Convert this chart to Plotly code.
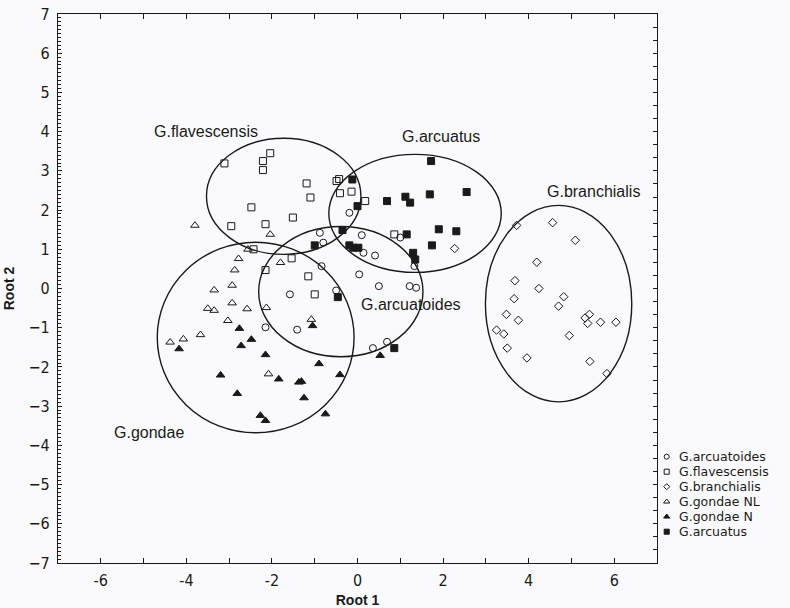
import plotly.graph_objects as go

# ---------------- data ----------------
arcuatoides_x = [-0.19, 0.10, -0.80, -0.88, 0.14, 0.41, 1.00, 1.33, -0.84, 0.04, 0.50, 1.22, 1.37,
                 -1.58, -0.50, -2.15, -1.41, 0.36, 0.69]
arcuatoides_y = [1.93, 1.36, 1.17, 1.42, 0.91, 0.84, 1.30, 0.57, 0.57, 0.36, 0.06, 0.06, 0.02,
                 -0.15, -0.05, -0.99, -1.05, -1.52, -1.36]

flavescensis_x = [-3.11, -2.04, -2.21, -2.21, -2.48, -2.95, -2.15, -1.51, -1.19, -1.10, -0.49, -0.43,
                  -0.14, -0.41, 0.18, -2.43, -1.54, -2.15, -1.15, -1.00, 0.86]
flavescensis_y = [3.19, 3.45, 3.25, 3.02, 2.07, 1.59, 1.64, 1.81, 2.68, 2.32, 2.74, 2.79,
                  2.47, 2.43, 2.23, 1.00, 0.77, 0.47, 0.31, -0.15, 1.38]

branchialis_x = [2.27, 3.72, 4.56, 5.09, 4.19, 3.68, 4.24, 4.82, 3.66, 4.70, 3.48, 3.76, 5.32, 5.42,
                 5.38, 5.68, 6.04, 3.25, 3.42, 3.50, 4.95, 3.96, 5.43, 5.83]
branchialis_y = [1.02, 1.61, 1.68, 1.23, 0.67, 0.20, 0.00, -0.21, -0.26, -0.45, -0.66, -0.81, -0.75, -0.66,
                 -0.89, -0.86, -0.86, -1.06, -1.16, -1.52, -1.20, -1.77, -1.86, -2.17]

gondae_nl_x = [-3.80, -2.04, -2.56, -2.78, -2.87, -2.93, -3.35, -1.80, -3.50, -3.35, -2.93, -2.58,
               -2.13, -3.03, -4.38, -4.07, -3.67, -2.08, -1.08]
gondae_nl_y = [1.61, 1.38, 1.00, 0.76, 0.47, 0.08, -0.04, 0.66, -0.51, -0.56, -0.37, -0.52,
               -0.49, -0.82, -1.37, -1.29, -1.18, -2.18, -0.79]

gondae_n_x = [-4.17, -2.76, -2.48, -2.72, -2.15, -3.20, -1.84, -1.37, -1.31, -0.90, -0.41, -2.81,
              -1.25, -2.27, -2.15, -0.75, -1.05, 0.53]
gondae_n_y = [-1.54, -1.02, -1.30, -1.46, -1.69, -2.21, -2.31, -2.39, -2.37, -1.92, -2.20, -2.68,
              -2.79, -3.24, -3.37, -3.20, -0.95, -1.71]

arcuatus_x = [-0.12, 0.00, 0.69, 1.12, 1.23, 1.69, 1.72, 2.55, -0.35, -0.19, -0.10, 0.02, -1.00,
              1.15, 1.30, 1.35, 1.74, 1.90, 2.31, -0.46, 0.86]
arcuatus_y = [2.78, 2.10, 2.23, 2.34, 2.19, 2.40, 3.25, 2.46, 1.49, 1.10, 1.04, 1.04, 1.10,
              1.38, 0.91, 0.74, 1.10, 1.51, 1.46, -0.22, -1.52]

series_names = ["G.arcuatoides", "G.flavescensis", "G.branchialis", "G.gondae NL", "G.gondae N", "G.arcuatus"]

# group ellipses (x0, x1, y0, y1) and their labels
ellipse_names = ["G.flavescensis", "G.arcuatus", "G.branchialis", "G.arcuatoides", "G.gondae"]
ellipse_x0 = [-3.53, -0.67, 2.99, -2.31, -4.68]
ellipse_x1 = [0.08, 3.36, 6.41, 1.53, -0.08]
ellipse_y0 = [0.87, 0.41, -2.89, -1.74, -3.68]
ellipse_y1 = [3.83, 3.42, 2.12, 1.58, 1.18]
label_x = [-3.53, 1.94, 5.52, 1.26, -4.87]
label_y = [4.01, 3.88, 2.48, -0.41, -3.68]

x_ticks = list(range(-7, 8))
y_ticks = list(range(-7, 8))

# ---------------- figure ----------------
INK = "#1a1a1a"
BG = "#fafafc"
FONT = "Liberation Sans, Arial, sans-serif"
NARROW = "Liberation Sans Narrow, Arial Narrow, DejaVu Sans Condensed, sans-serif"
LEGFONT = "DejaVu Sans, Verdana, sans-serif"

styles = [
    dict(symbol="circle-open", size=7),
    dict(symbol="square-open", size=7),
    dict(symbol="diamond-open", size=6.5),
    dict(symbol="triangle-up-open", size=7.5),
    dict(symbol="triangle-up", size=7.5),
    dict(symbol="square", size=7),
]
xs = [arcuatoides_x, flavescensis_x, branchialis_x, gondae_nl_x, gondae_n_x, arcuatus_x]
ys = [arcuatoides_y, flavescensis_y, branchialis_y, gondae_nl_y, gondae_n_y, arcuatus_y]

fig = go.Figure()
for name, sx, sy, st in zip(series_names, xs, ys, styles):
    fig.add_trace(go.Scatter(
        x=sx, y=sy, mode="markers", name=name, showlegend=False,
        marker=dict(symbol=st["symbol"], size=st["size"], color=INK,
                    line=dict(color=INK, width=1)),
        xaxis="x", yaxis="y"))

# invisible helper for the right-hand tick axis
fig.add_trace(go.Scatter(x=[None], y=[None], xaxis="x", yaxis="y2", showlegend=False, hoverinfo="skip"))

# ellipses
for x0, x1, y0, y1 in zip(ellipse_x0, ellipse_x1, ellipse_y0, ellipse_y1):
    fig.add_shape(type="circle", xref="x", yref="y", x0=x0, x1=x1, y0=y0, y1=y1,
                  line=dict(color=INK, width=1.4), fillcolor="rgba(0,0,0,0)", layer="above")

annotations = []
for name, lx, ly in zip(ellipse_names, label_x, label_y):
    annotations.append(dict(x=lx, y=ly, xref="x", yref="y", text=name, showarrow=False,
                            font=dict(family=FONT, size=16, color=INK)))

# ---------------- custom legend (right margin) ----------------
W, H = 790, 608
L, R, T, B = 58, 0, 14, 45
plot_w = W - L - R
main_w = 599
main_dom = main_w / plot_w
leg_dom0 = (662 - L) / plot_w
leg_w = W - 662
leg_top = 456.7 - T          # pixel distance of first legend row from plot top
leg_step = 15
plot_h = H - T - B
leg_y = [plot_h - (leg_top + i * leg_step) for i in range(len(series_names))]
leg_mx = [4.7] * len(series_names)

for i, (name, st) in enumerate(zip(series_names, styles)):
    fig.add_trace(go.Scatter(
        x=[leg_mx[i]], y=[leg_y[i]], mode="markers", showlegend=False, hoverinfo="skip",
        marker=dict(symbol=st["symbol"], size=st["size"] * 0.72, color=INK,
                    line=dict(color=INK, width=1)),
        xaxis="x3", yaxis="y3"))
    annotations.append(dict(x=leg_mx[i] + 10, y=leg_y[i], xref="x3", yref="y3", text=name,
                            xanchor="left", yanchor="middle", showarrow=False,
                            font=dict(family=LEGFONT, size=12.5, color=INK)))

fig.update_layout(
    width=W, height=H,
    margin=dict(l=L, r=R, t=T, b=B),
    paper_bgcolor=BG, plot_bgcolor=BG,
    showlegend=False,
    annotations=annotations,
    xaxis=dict(domain=[0, main_dom], range=[-7, 7], tickvals=x_ticks,
               ticktext=[str(v) if v % 2 == 0 else "" for v in x_ticks],
               ticks="inside", ticklen=5, tickcolor=INK, showline=True, linecolor=INK, linewidth=1.2,
               mirror="ticks", showgrid=False, zeroline=False, automargin=False,
               tickfont=dict(family=NARROW, size=16, color=INK), ticklabelstandoff=3,
               title=dict(text="<b>Root 1</b>", font=dict(family=FONT, size=14, color=INK), standoff=6)),
    yaxis=dict(domain=[0, 1], range=[-7, 7], tickvals=y_ticks,
               ticks="inside", ticklen=4, tickcolor=INK, showline=True, linecolor=INK, linewidth=1.2,
               mirror=False, showgrid=False, zeroline=False, automargin=False,
               minor=dict(dtick=0.1, ticks="inside", ticklen=3, tickcolor=INK, showgrid=False),
               tickfont=dict(family=NARROW, size=16, color=INK), ticklabelstandoff=4,
               title=dict(text="<b>Root 2</b>", font=dict(family=FONT, size=14, color=INK), standoff=10)),
    yaxis2=dict(overlaying="y", side="right", anchor="x", range=[-7, 7], dtick=1 / 3, tick0=-7,
                ticks="inside", ticklen=4, tickcolor=INK, showline=True, linecolor=INK, linewidth=1.2,
                showticklabels=False, showgrid=False, zeroline=False, automargin=False),
    xaxis3=dict(domain=[leg_dom0, 1], range=[0, leg_w], visible=False, anchor="y3"),
    yaxis3=dict(domain=[0, 1], range=[0, plot_h], visible=False, anchor="x3"),
)

fig.write_html("out.html", config={"displayModeBar": False},
               post_script="document.body.style.margin='0px';document.body.style.padding='0px';")
